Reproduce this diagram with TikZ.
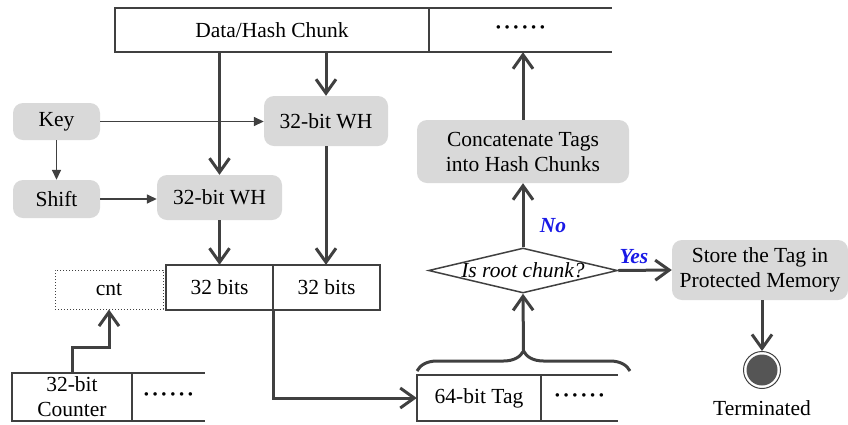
\documentclass[tikz,border=0pt]{standalone}
\usepackage{fontspec}
\setmainfont{Liberation Serif}
\usetikzlibrary{arrows.meta,decorations.pathreplacing,shapes.geometric}
\definecolor{ln}{RGB}{64,64,64}
\definecolor{boxgray}{RGB}{217,217,217}
\definecolor{termfill}{RGB}{85,85,85}
\definecolor{lblblue}{RGB}{25,25,230}
\newcommand\mydots{\textbf{·\kern1.6pt·\kern1.6pt·\kern1.6pt·\kern1.6pt·\kern1.6pt·}}
\begin{document}
\begin{tikzpicture}[x=1pt,y=-1pt,
  every node/.style={font=\fontsize{21.5}{25}\selectfont, inner sep=0pt},
  gbox/.style={fill=boxgray, rounded corners=10pt, align=center},
  cellline/.style={draw=ln, line width=1.5pt},
  thinarrow/.style={draw=ln, line width=1.5pt, -{Triangle[length=10pt,width=9pt]}},
  thickarrow/.style={draw=ln, line width=3pt, -{Straight Barb[length=14pt,width=20pt]}},
  lab/.style={text=lblblue, font=\fontsize{21.5}{25}\selectfont\bfseries\itshape}]
\useasboundingbox (0,0) rectangle (848,424);

% top chunk
\node[minimum width=314pt, minimum height=44pt] (dataA) at (272,30) {Data/Hash Chunk};
\node[minimum width=183pt, minimum height=44pt] (dataB) at (520.5,30) {\mydots};
\draw[cellline] (dataA.north west) rectangle (dataA.south east);
\draw[cellline] (dataB.north west) -- (dataB.north east) (dataB.south west) -- (dataB.south east);

% gray boxes
\node[gbox, minimum width=87pt, minimum height=37pt] (key) at (56.5,121.5) {Key};
\node[gbox, minimum width=87pt, minimum height=38pt] (shift) at (56.5,199) {Shift};
\node[gbox, minimum width=125pt, minimum height=45pt] (wh1) at (219.5,197.5) {32-bit WH};
\node[gbox, minimum width=124pt, minimum height=50pt] (wh2) at (326,121) {32-bit WH};
\node[gbox, minimum width=212pt, minimum height=63pt] (concat) at (523,151.5) {Concatenate Tags\\into Hash Chunks};
\node[gbox, minimum width=176pt, minimum height=60pt] (store) at (760,270) {Store the Tag in\\Protected Memory};

% 32 bits cells
\node[minimum width=107pt, minimum height=45pt] (bitsA) at (219.5,287.5) {32 bits};
\node[minimum width=107pt, minimum height=45pt] (bitsB) at (326.5,287.5) {32 bits};
\draw[cellline] (bitsA.north west) rectangle (bitsB.south east);
\draw[cellline] (bitsA.north east) -- (bitsA.south east);
\node[draw=ln, line width=1pt, dotted, minimum width=108pt, minimum height=39pt] (cnt) at (109,289.5) {cnt};

% counter cells
\node[minimum width=120pt, minimum height=48pt, align=center] (cntr) at (72,397) {32-bit\\Counter};
\node[minimum width=73pt, minimum height=48pt] (cntrB) at (168.5,397) {\mydots};
\draw[cellline] (cntr.north west) rectangle (cntr.south east);
\draw[cellline] (cntrB.north west) -- (cntrB.north east) (cntrB.south west) -- (cntrB.south east);

% tag cells
\node[minimum width=124pt, minimum height=46pt] (tag) at (479,398) {64-bit Tag};
\node[minimum width=77pt, minimum height=46pt] (tagB) at (579.5,398) {\mydots};
\draw[cellline] (tag.north west) rectangle (tag.south east);
\draw[cellline] (tagB.north west) -- (tagB.north east) (tagB.south west) -- (tagB.south east);

% decision
\node[diamond, draw=ln, line width=1.5pt, minimum width=189pt, minimum height=45pt] (root) at (523,270.5) {};
\node[font=\fontsize{21.5}{25}\selectfont\itshape] (roottxt) at (root) {Is root chunk?};

% terminal
\node[circle, draw=ln, line width=1pt, minimum size=37pt] (term) at (762,370) {};
\fill[termfill] (term.center) circle (15.5pt);
\node (termlbl) at (762,408) {Terminated};

% brace
\draw[draw=ln, line width=3pt, decorate, decoration={brace, amplitude=20pt}] (417,371) -- (630,371);
\coordinate (braceTip) at (523.5,351);

% connectors
\draw[thinarrow] (key.east) -- (key.east -| wh2.west);
\draw[thinarrow] (key) -- (shift);
\draw[thinarrow] (shift.east) -- (shift.east -| wh1.west);
\draw[thickarrow] (wh1 |- dataA.south) -- (wh1.north);
\draw[thickarrow] (wh2 |- dataA.south) -- (wh2.north);
\draw[thickarrow] (wh1.south) -- (wh1 |- bitsA.north);
\draw[thickarrow] (wh2.south) -- (wh2 |- bitsB.north);
\draw[thickarrow] (cntr.north) -- ++(0,-25) -| (cnt.south);
\draw[thickarrow] (bitsA.south east) |- (tag.west);
\draw[thickarrow] (braceTip) -- (root.south);
\draw[thickarrow] (root.north) -- (concat.south);
\draw[thickarrow] (concat.north) -- (concat |- dataB.south);
\draw[thickarrow] (root.east) -- (store.west);
\draw[thickarrow] (term |- store.south) -- (term.north);

% labels
\node[lab] (no) at (553,226) {No};
\node[lab] (yes) at (634,257) {Yes};
\end{tikzpicture}
\end{document}
